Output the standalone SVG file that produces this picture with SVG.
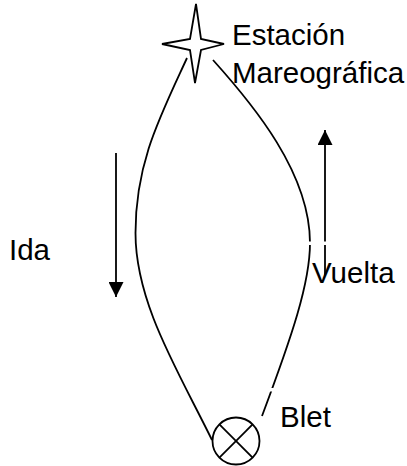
<svg xmlns="http://www.w3.org/2000/svg" width="407" height="466" viewBox="0 0 407 466">
  <style>
    .ln { fill: none; stroke: #000; stroke-width: 1.8; }
    .nd { fill: #fff; stroke: #000; stroke-width: 1.8; }
    .lbl { font-family: "Liberation Sans", Arial, sans-serif; font-size: 29.5px; fill: #000; }
  </style>
  <defs>
    <marker id="ah" markerUnits="userSpaceOnUse" markerWidth="15" markerHeight="15" refX="15" refY="7.5" orient="auto">
      <path d="M0,0 L15,7.5 L0,15 Z" fill="#000"/>
    </marker>
    <mask id="gaps" maskUnits="userSpaceOnUse" x="0" y="0" width="407" height="466">
      <rect x="0" y="0" width="407" height="466" fill="#fff"/>
      <rect x="300" y="241.5" width="35" height="3.5" fill="#000"/>
      <rect x="266" y="388" width="12" height="3.5" fill="#000"/>
    </mask>
  </defs>
  <rect width="407" height="466" fill="#fff"/>
  <g id="connectors" mask="url(#gaps)">
    <path id="path-left" class="ln" d="M187,58 C159.4,118 135.5,163 135.5,233 C135.5,303 177.7,370 212,440"/>
    <path id="path-right" class="ln" d="M213,60 C253.5,105 310,173 310,243 C310,283 292,336 262,416"/>
    <line id="arrow-ida" class="ln" x1="116" y1="153" x2="116" y2="297" marker-end="url(#ah)"/>
    <line id="arrow-vuelta" class="ln" x1="325" y1="275" x2="325" y2="130" marker-end="url(#ah)"/>
  </g>
  <g id="station">
    <path class="nd" d="M196,4 L201,39 L224,44 L201,50 L195,83 L190,50 L162,44 L190,39 Z"/>
    <text class="lbl" x="232" y="45">Estación</text>
    <text class="lbl" x="232" y="83">Mareográfica</text>
  </g>
  <g id="blet">
    <circle class="nd" cx="236" cy="441" r="23.5"/>
    <line class="ln" x1="219.4" y1="424.4" x2="252.6" y2="457.6"/>
    <line class="ln" x1="252.6" y1="424.4" x2="219.4" y2="457.6"/>
    <text class="lbl" x="280" y="427">Blet</text>
  </g>
  <g id="labels">
    <text class="lbl" x="9" y="260">Ida</text>
    <text class="lbl" x="312" y="283">Vuelta</text>
  </g>
</svg>
